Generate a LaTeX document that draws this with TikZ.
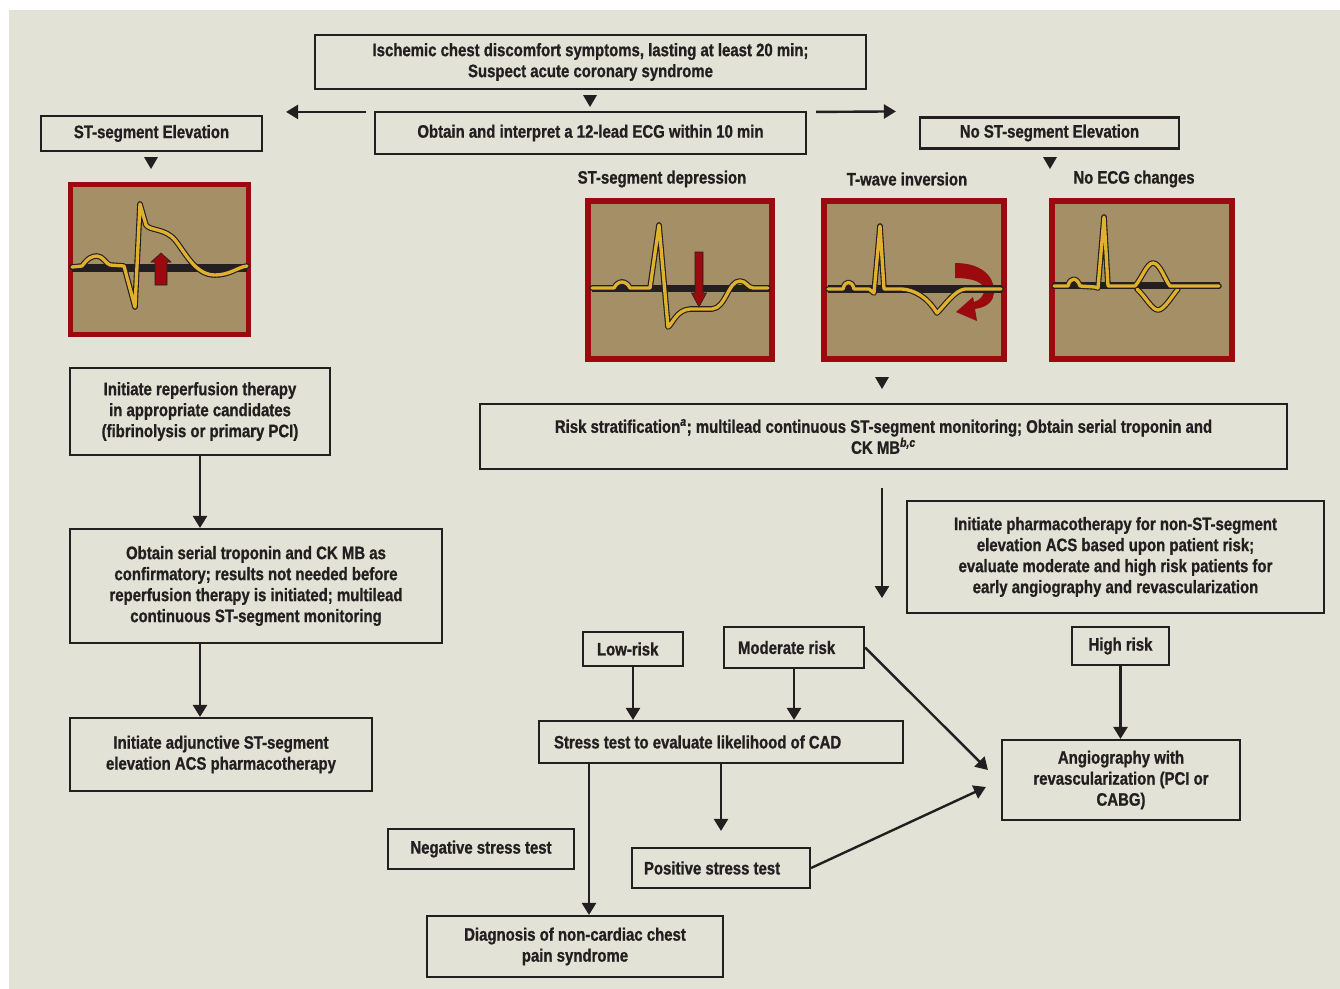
\documentclass[tikz,border=0pt]{standalone}
\usepackage{fontspec}
\setmainfont{Liberation Sans}[FakeStretch=0.83,
  BoldFont={Liberation Sans Bold}, BoldFeatures={FakeBold=1},
  BoldItalicFont={Liberation Sans Bold Italic}, BoldItalicFeatures={FakeBold=1}]
\usetikzlibrary{arrows.meta,calc}
\definecolor{bg}{HTML}{E2E3D6}
\definecolor{ink}{HTML}{231F20}
\definecolor{tan}{HTML}{A58F66}
\definecolor{ecgred}{HTML}{9B0A0F}
\definecolor{gold}{HTML}{E0B12E}
% an ECG trace: dark outline under a golden stroke
\newcommand\ecgtrace[1]{%
  \draw[ink, line width=4.2pt, line join=round, line cap=round] #1;
  \draw[gold, line width=2.5pt, line join=round, line cap=round] #1;}
\begin{document}
\begin{tikzpicture}[x=0.75pt,y=-0.75pt,
  txt/.style={font=\fontsize{13.5}{15.75}\selectfont\bfseries, text=ink},
  box/.style={txt, draw=ink, line width=1.6pt, inner sep=0pt, align=center},
  sz/.style 2 args={minimum width=#1*0.75pt, minimum height=#2*0.75pt},
  lbox/.style n args={3}{box, align=flush left, inner xsep=#3*0.75pt,
     text width=(#1-2*#3)*0.75pt, minimum height=#2*0.75pt},
  arr/.style={draw=ink, line width=1.8pt, -{Triangle[length=9pt,width=10.5pt]}},
  pointer/.style={fill=ink},
  panel/.style={draw=ecgred, line width=3.9pt, fill=tan},
  bar/.style={draw=ink, line width=5.5pt},
  redarrow/.style={fill=ecgred, draw=ink, line width=0.4pt}]

% page and backdrop
\path[use as bounding box, fill=white] (0,0) rectangle (1340,989);
\fill[bg] (9,10) rectangle (1340,989);

% ---- top of the chart
\node[box, sz={551}{54}] (top) at (590.5,62)
  {Ischemic chest discomfort symptoms, lasting at least 20 min;\\Suspect acute coronary syndrome};
\node[box, sz={431}{42}] (ecg) at (590.5,133)
  {Obtain and interpret a 12-lead ECG within 10 min};
\node[box, sz={221}{35}] (stE) at (151.5,133.5) {ST-segment Elevation};
\node[box, sz={259}{31}] (noST) at (1049.5,133) {No ST-segment Elevation};

\fill[pointer] (583,95) -- (597,95) -- (590,107) -- cycle;
\draw[arr] ($(ecg.north west)+(-8,1)$) -- ($(stE.north east)+(23,-3)$);
\draw[arr] ($(ecg.north east)+(9,1)$) -- ($(noST.north west)+(-23,-5)$);
\fill[pointer] (144,157) -- (158,157) -- (151,169) -- cycle;
\fill[pointer] (1043,157) -- (1057,157) -- (1050,169) -- cycle;

% ---- ECG panel: ST elevation
\draw[panel] (70.5,184.5) rectangle (248.5,334.5);
\draw[bar] (72,268) -- (247,268);
\ecgtrace{(72,267) -- (82,266) .. controls (88,258) and (92,256) .. (97,256)
  .. controls (103,256) and (106,264) .. (110,265) -- (124,266) -- (135,307)
  -- (140,204) -- (146,225) .. controls (150,231) and (165,228) .. (175,240)
  .. controls (185,252) and (195,275) .. (215,275)
  .. controls (230,275) and (238,267) .. (247,266)}
\draw[redarrow] (155,285) -- (155,262) -- (151,262) -- (161,253) -- (171,262)
  -- (167,262) -- (167,285) -- cycle;

% ---- labels above the other panels
\node[txt] (lblA) at (662,179) {ST-segment depression};
\node[txt] (lblB) at (907,179) {T-wave inversion};
\node[txt] (lblC) at (1134,179) {No ECG changes};

% ---- ECG panel: ST depression
\draw[panel] (588,201) rectangle (772,359);
\draw[bar] (592,288.5) -- (770,288.5);
\ecgtrace{(592,288) -- (614,288) .. controls (618,280) and (626,280) .. (630,288)
  -- (650,288) -- (659,225) -- (668,327)
  .. controls (672,325) and (676,310) .. (690,309) -- (712,309)
  .. controls (726,308) and (728,281) .. (740,281)
  .. controls (746,281) and (748,288) .. (753,288) -- (768,288)}
\draw[redarrow] (695,252) -- (695,293) -- (691.5,293) -- (699,307) -- (706.5,293)
  -- (703,293) -- (703,252) -- cycle;

% ---- ECG panel: T-wave inversion
\draw[panel] (824,201) rectangle (1004,359);
\fill[ecgred] (955,263) .. controls (980,263) and (994,275) .. (994,291)
  .. controls (994,302) and (987,307) .. (975,309) -- (977,321) -- (956,312)
  -- (973,297) -- (974,302) .. controls (980,300) and (984,296) .. (984,290)
  .. controls (984,282) and (972,278) .. (955,278) -- cycle;
\draw[bar] (828,289) -- (1002,289);
\ecgtrace{(828,289) -- (843,289) .. controls (845,280) and (852,280) .. (854,289)
  -- (869,289) -- (874,293) -- (880,226) -- (884,289) -- (902,289)
  .. controls (915,290) and (927,297) .. (937,313)
  .. controls (945,305) and (955,290) .. (965,289) -- (1001,289)}

% ---- ECG panel: no ECG changes
\draw[panel] (1052,201) rectangle (1232,359);
\draw[bar] (1053,285.5) -- (1220,285.5);
\ecgtrace{(1137,289) .. controls (1145,296) and (1152,310) .. (1158,310)
  .. controls (1164,310) and (1172,296) .. (1178,289)}
\ecgtrace{(1054,286) -- (1068,286) .. controls (1070,277) and (1077,277) .. (1080,286)
  -- (1095,287) -- (1098,288) -- (1104,217) -- (1108,286) -- (1135,286)
  .. controls (1142,278) and (1147,263) .. (1153,263)
  .. controls (1160,263) and (1165,280) .. (1170,286) -- (1219,286)}

% ---- ST elevation branch
\node[box, sz={260}{87}] (rep) at (200,411.5)
  {Initiate reperfusion therapy\\in appropriate candidates\\(fibrinolysis or primary PCI)};
\node[box, sz={372}{114}] (trop) at (256,586)
  {Obtain serial troponin and CK MB as\\confirmatory; results not needed before\\reperfusion therapy is initiated; multilead\\continuous ST-segment monitoring};
\node[box, sz={302}{73}] (adj) at (221,754.5)
  {Initiate adjunctive ST-segment\\elevation ACS pharmacotherapy};
\draw[arr] (rep.south) -- (rep.south |- trop.north);
\draw[arr] (rep.south |- trop.south) -- (rep.south |- adj.north);

% ---- no ST elevation branch
\fill[pointer] (875,377) -- (889,377) -- (882,389) -- cycle;
\node[box, sz={807}{65}] (risk) at (883.5,436.5)
  {Risk stratification\textsuperscript{\itshape a}; multilead continuous ST-segment monitoring; Obtain serial troponin and\\CK MB\textsuperscript{\itshape b,c}};
\draw[arr] ($(risk.south)+(-1.5,18)$) -- ($(risk.south)+(-1.5,128)$);
\node[box, sz={417}{112}] (pharm) at (1115.5,557)
  {Initiate pharmacotherapy for non-ST-segment\\elevation ACS based upon patient risk;\\evaluate moderate and high risk patients for\\early angiography and revascularization};

\node[lbox={100}{34}{14}] (low) at (633,649) {Low-risk};
\node[lbox={140}{41}{14}] (mod) at (794,647.5) {Moderate risk};
\node[box, sz={97}{38}] (high) at (1120.5,646) {High risk};
\node[lbox={364}{42}{15}] (stress) at (721,742) {Stress test to evaluate likelihood of CAD};
\node[box, sz={238}{80}] (angio) at (1121,780)
  {Angiography with\\revascularization (PCI or\\CABG)};
\node[box, sz={186}{40}] (neg) at (481,849) {Negative stress test};
\node[lbox={178}{40}{12}] (pos) at (721,868) {Positive stress test};
\node[box, sz={296}{61}] (diag) at (575,946.5)
  {Diagnosis of non-cardiac chest\\pain syndrome};

\draw[arr] (low.south) -- (low.south |- stress.north);
\draw[arr] (mod.south) -- (mod.south |- stress.north);
\draw[arr] (high.south) -- (high.south |- angio.north);
\draw[arr] (mod.east) -- ($(angio.west)+(-13,-10)$);
\draw[arr] (pos.east) -- ($(angio.west)+(-15,7)$);
\coordinate (negx) at (589,0);
\draw[arr] (negx |- stress.south) -- (negx |- diag.north);
\draw[arr] (stress.south) -- ($(pos.north)+(0,-16)$);
\end{tikzpicture}
\end{document}
